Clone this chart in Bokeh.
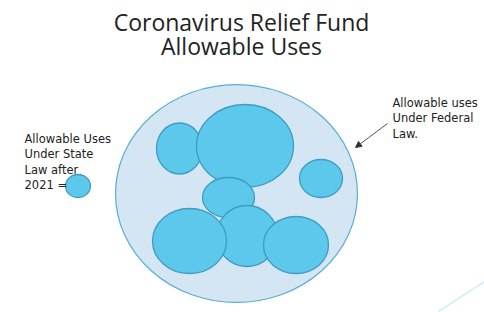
from bokeh.plotting import figure
from bokeh.models import Range1d, Arrow, NormalHead
from bokeh.core.properties import value
from bokeh.embed import file_html
from bokeh.resources import INLINE

# Diagram data (in picture coordinates, y downward)
outer_x = [236]
outer_y = [193]
outer_w = [242]
outer_h = [218]

# inner "allowable uses" bubbles, in drawing order
bub_x = [179, 244.5, 320.5, 228, 246.5, 189, 295.5]
bub_y = [148, 145.5, 178, 197, 235.5, 240.5, 244.5]
bub_w = [46, 97, 43, 52, 61, 74, 65]
bub_h = [51, 83, 38, 40, 61, 65, 57]

legend_x = [77.5]
legend_y = [185.5]
legend_w = [25]
legend_h = [23]

title_lines = ["Coronavirus Relief Fund", "Allowable Uses"]
left_lines = ["Allowable Uses", "Under State", "Law after", "2021 ="]
right_lines = ["Allowable uses", "Under Federal", "Law."]

W, H = 484, 312
p = figure(width=W, height=H, output_backend="svg", toolbar_location=None,
           x_range=Range1d(0, W), y_range=Range1d(H, 0),
           min_border=0, outline_line_color=None)
p.axis.visible = False
p.grid.visible = False
p.background_fill_color = "white"
p.border_fill_color = "white"

FILL = "#5BC8EC"
EDGE = "#3F9CC0"

p.ellipse(x=outer_x, y=outer_y, width=outer_w, height=outer_h,
          fill_color="#D4E6F4", line_color="#5AAED0", line_width=1.2)
for i in range(len(bub_x)):
    p.ellipse(x=[bub_x[i]], y=[bub_y[i]], width=[bub_w[i]], height=[bub_h[i]],
              fill_color=FILL, line_color=EDGE, line_width=1.3)
p.ellipse(x=legend_x, y=legend_y, width=legend_w, height=legend_h,
          fill_color=FILL, line_color=EDGE, line_width=1.3)

font = value("DejaVu Sans")
p.text(x=[241, 241], y=[21, 45], text=title_lines, text_font=value("Open Sans"),
       text_font_size="23px", text_align="center", text_baseline="alphabetic",
       text_color="#222222")
p.text(x=[24] * 4, y=[138, 153.5, 169, 184.5], text=left_lines, text_font=font,
       text_font_size="11.5px", text_baseline="alphabetic", text_color="#222222")
p.text(x=[392] * 3, y=[102, 117.5, 133], text=right_lines, text_font=font,
       text_font_size="11.5px", text_baseline="alphabetic", text_color="#222222")

p.add_layout(Arrow(end=NormalHead(size=6, fill_color="#333333", line_color="#333333"),
                   x_start=387, y_start=123, x_end=355, y_end=147,
                   line_color="#555555", line_width=1))
p.line(x=[438, 484], y=[311, 281], line_color="#CDEEF5", line_width=1.5)

open("out.html", "w").write(file_html(p, INLINE))
